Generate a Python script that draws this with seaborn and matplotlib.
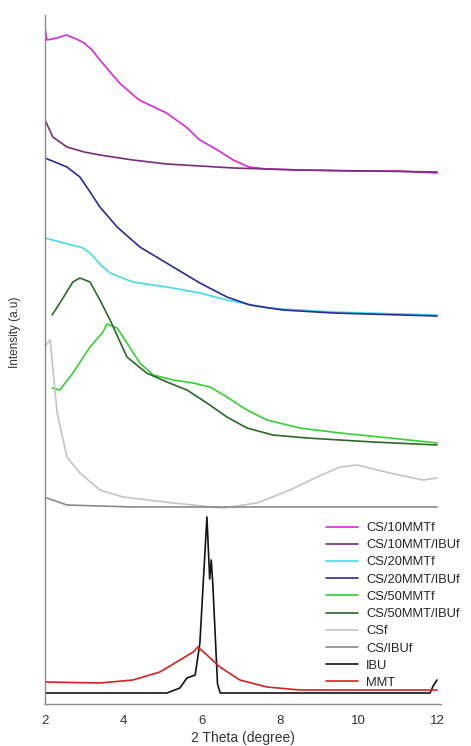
import numpy as np
import pandas as pd
import seaborn as sns
import matplotlib.pyplot as plt

# XRD patterns (2 theta, stacked intensity in a.u.)
labels = ['CS/10MMTf', 'CS/10MMT/IBUf', 'CS/20MMTf', 'CS/20MMT/IBUf', 'CS/50MMTf',
          'CS/50MMT/IBUf', 'CSf', 'CS/IBUf', 'IBU', 'MMT']
colors = ['#dc28dc', '#7a2c7a', '#44dde6', '#2a2a9c', '#34d034',
          '#2a6a2a', '#c4c4c4', '#8a8a8a', '#141414', '#d82020']

x_10mmt = [2.0, 2.05, 2.3, 2.55, 2.8, 3.0, 3.2, 3.4, 3.9, 4.4, 5.1, 5.6, 5.95, 6.4, 6.8, 7.2, 7.65, 8.5, 9.8, 11.0, 12.0]
y_10mmt = [676, 664, 666, 669, 665, 661, 654, 644, 621, 604, 591, 577, 564, 554, 544, 537, 535, 534, 533, 533, 531]

x_10mmt_ibu = [2.0, 2.2, 2.56, 3.0, 3.4, 4.24, 5.11, 6.8, 8.5, 12.0]
y_10mmt_ibu = [584, 567, 557, 552, 549, 544, 540, 536, 534, 532]

x_20mmt = [2.0, 2.97, 3.15, 3.4, 3.66, 4.24, 5.11, 5.95, 6.64, 7.66, 9.35, 12.0]
y_20mmt = [466, 456, 451, 440, 431, 422, 417, 411, 404, 396, 392, 389]

x_20mmt_ibu = [2.0, 2.56, 2.89, 3.15, 3.4, 3.84, 4.42, 5.27, 5.95, 6.64, 7.23, 8.07, 9.35, 12.0]
y_20mmt_ibu = [546, 537, 527, 512, 497, 477, 457, 437, 421, 407, 399, 394, 391, 388]

x_50mmt = [2.18, 2.38, 2.71, 3.15, 3.48, 3.58, 3.84, 4.09, 4.42, 4.76, 5.27, 5.78, 6.21, 6.64, 7.15, 7.66, 8.5, 9.53, 10.8, 12.0]
y_50mmt = [316, 314, 331, 357, 372, 380, 376, 361, 341, 329, 324, 321, 317, 307, 294, 284, 276, 271, 266, 261]

x_50mmt_ibu = [2.18, 2.38, 2.71, 2.89, 3.15, 3.4, 3.66, 4.09, 4.59, 5.11, 5.62, 6.13, 6.64, 7.15, 7.81, 8.68, 10.37, 12.0]
y_50mmt_ibu = [389, 401, 422, 426, 422, 404, 384, 347, 331, 322, 314, 301, 287, 276, 269, 266, 262, 259]

x_cs = [2.03, 2.13, 2.31, 2.56, 2.89, 3.4, 3.99, 5.27, 6.54, 7.41, 8.25, 8.94, 9.53, 9.96, 10.8, 11.64, 12.0]
y_cs = [359, 364, 291, 247, 231, 214, 207, 201, 196, 201, 214, 227, 237, 239, 231, 224, 226]

x_cs_ibu = [2.05, 2.56, 4.24, 8.0, 12.0]
y_cs_ibu = [206, 199, 197, 197, 197]

x_ibu = [2.0, 5.11, 5.44, 5.62, 5.83, 5.95, 6.13, 6.2, 6.24, 6.28, 6.4, 6.47, 11.82, 11.9, 12.0]
y_ibu = [11, 11, 16, 26, 29, 61, 187, 125, 144, 120, 20, 11, 11, 18, 24]

x_mmt = [2.0, 3.4, 4.24, 4.93, 5.44, 5.78, 5.9, 6.13, 6.46, 6.97, 7.66, 8.5, 12.0]
y_mmt = [22, 21, 24, 32, 44, 52, 57, 49, 37, 24, 17, 14, 14]

xs = [x_10mmt, x_10mmt_ibu, x_20mmt, x_20mmt_ibu, x_50mmt,
      x_50mmt_ibu, x_cs, x_cs_ibu, x_ibu, x_mmt]
ys = [y_10mmt, y_10mmt_ibu, y_20mmt, y_20mmt_ibu, y_50mmt,
      y_50mmt_ibu, y_cs, y_cs_ibu, y_ibu, y_mmt]

sns.set_style('white')
plt.rcParams['font.family'] = ['Liberation Sans', 'DejaVu Sans']

fig = plt.figure(figsize=(4.71, 7.46), dpi=100)
ax = fig.add_axes([45 / 471, 42 / 746, 396 / 471, 689 / 746])

for lab, col, xv, yv in zip(labels, colors, xs, ys):
    sns.lineplot(x=xv, y=yv, ax=ax, color=col, linewidth=1.2, label=lab)

ax.set_xlim(2, 12.1)
ax.set_ylim(0, 689)
ax.set_xticks([2, 4, 6, 8, 10, 12])
ax.set_yticks([])
ax.tick_params(axis='x', direction='in', length=3, labelsize=9.5, colors='#333333', pad=8)
for s in ['top', 'right']:
    ax.spines[s].set_visible(False)
for s in ['left', 'bottom']:
    ax.spines[s].set_color('#888888')
    ax.spines[s].set_linewidth(1.0)

ax.set_xlabel('2 Theta (degree)', fontsize=10, color='#333333', labelpad=3)
ax.set_ylabel('Intensity (a.u)', fontsize=8.5, color='#333333')
ax.yaxis.set_label_coords(-0.06, 0.54)

ax.legend(loc='upper left', bbox_to_anchor=(326 / 471, 224 / 746), bbox_transform=fig.transFigure,
          frameon=False, fontsize=9.3, handlelength=2.5, handletextpad=0.6,
          labelspacing=0.4, borderpad=0, borderaxespad=0)

fig.savefig('out.png', dpi=100)
